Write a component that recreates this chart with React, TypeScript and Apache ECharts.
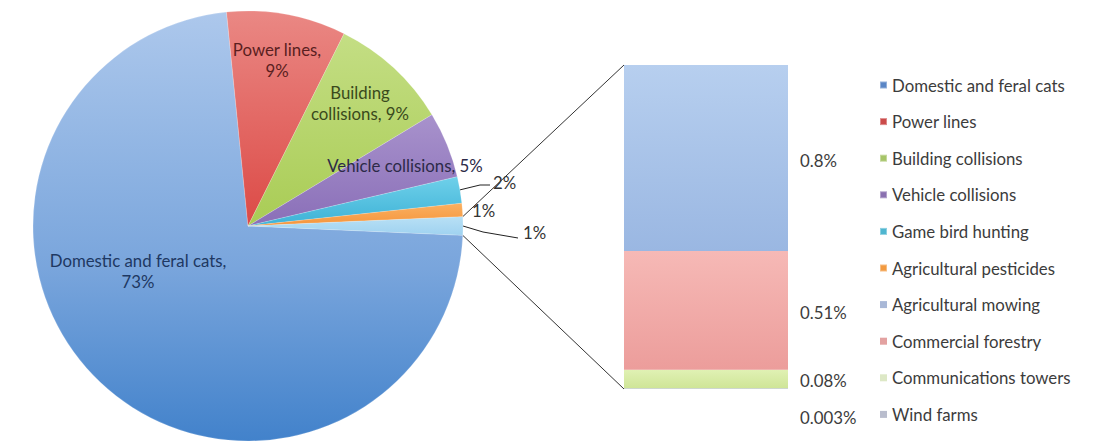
import React, { useEffect, useRef } from "react";
import * as echarts from "echarts";

// ---------- data ----------
const pieNames = [
  "Domestic and feral cats",
  "Power lines",
  "Building collisions",
  "Vehicle collisions",
  "Game bird hunting",
  "Agricultural pesticides",
];
const pieValues = [73, 9, 9, 5, 2, 1];
const barNames = [
  "Agricultural mowing",
  "Commercial forestry",
  "Communications towers",
  "Wind farms",
];
const barValues = [0.8, 0.51, 0.08, 0.003];
const barLabels = ["0.8%", "0.51%", "0.08%", "0.003%"];
const otherName = "Other";

// ---------- styling ----------
const FONT = "Lato, 'Open Sans', sans-serif";
const FS = 16.8;
const W = 1096;
const H = 443;
const CX = 248;
const CY = 226;
const R = 215;
const BAR = { left: 624, top: 65, width: 164, height: 324 };

const pieGradients: [string, string][] = [
  ["#b0cbee", "#4080ca"],
  ["#ea8884", "#dc4a46"],
  ["#c4de84", "#a9cc55"],
  ["#a892cc", "#8a6fb8"],
  ["#6fd0ea", "#3db2d6"],
  ["#fab061", "#f5953c"],
  ["#b8e0f5", "#9fd2f0"],
];
const barGradients: [string, string][] = [
  ["#b7cfef", "#9ab7e2"],
  ["#f6b9b6", "#ec9d9b"],
  ["#e0f1b4", "#cfe597"],
  ["#c0c6da", "#b0b8d0"],
];
const legendColors = [
  "#5a86c6",
  "#cb4b4a",
  "#a6c468",
  "#8a70b0",
  "#4fb6d0",
  "#f29a40",
  "#a9b8d7",
  "#e3a2a1",
  "#dde8c6",
  "#b9bdcd",
];
const pieLabelColors = ["#1e3862", "#5a1f1f", "#3a4a1c", "#2c2a48", "#333", "#333", "#333"];
// label anchor positions (label text, not marks)
const pieLabelPos: [number, number, string][] = [
  [138, 271, "center"],
  [277, 60, "center"],
  [360, 103, "center"],
  [405, 165, "center"],
  [493, 182, "left"],
  [472, 210, "left"],
  [523, 232, "left"],
];

const pieLabelText = (i: number, name: string, pct: number) => {
  if (i === 0 || i === 1) return `${name},\n${pct}%`;
  if (i === 2) return name.replace(" ", "\n") + `, ${pct}%`;
  if (i === 3) return `${name}, ${pct}%`;
  return `${pct}%`;
};

const vGrad = (c: [string, string]) =>
  new echarts.graphic.LinearGradient(0, 0, 0, 1, [
    { offset: 0, color: c[0] },
    { offset: 1, color: c[1] },
  ]);

export default function App() {
  const ref = useRef<HTMLDivElement>(null);

  useEffect(() => {
    document.body.style.margin = "0";
    if (!ref.current) return;
    const chart = echarts.init(ref.current, undefined, { renderer: "svg" });

    const otherValue = barValues.reduce((a, b) => a + b, 0);
    const allPieValues = [...pieValues, otherValue];
    const allPieNames = [...pieNames, otherName];
    const total = allPieValues.reduce((a, b) => a + b, 0);
    const halfOther = (otherValue / total) * 360 / 2;
    const startAngle = -halfOther;

    const midAngles: number[] = [];
    let cum = 0;
    allPieValues.forEach((v) => {
      midAngles.push(startAngle - ((cum + v / 2) / total) * 360);
      cum += v;
    });
    const edge = (deg: number) => {
      const r = (deg * Math.PI) / 180;
      return [CX + R * Math.cos(r), CY - R * Math.sin(r)];
    };

    const cats = new echarts.graphic.LinearGradient(
      0, CY - R, 0, CY + R,
      [
        { offset: 0, color: "#adc8ec" },
        { offset: 0.6, color: "#79a5dc" },
        { offset: 1, color: "#4282cb" },
      ],
      true
    );

    const pieData = allPieNames.map((name, i) => ({
      name,
      value: allPieValues[i],
      itemStyle: { color: i === 0 ? cats : vGrad(pieGradients[i]) },
      label: { color: pieLabelColors[i] },
      labelLine: { show: i === 4 || i === 6 },
    }));

    const stackOrder = [...barNames.keys()].reverse();
    const barSeries = stackOrder.map((i) => ({
      type: "bar",
      name: barNames[i],
      stack: "other",
      barWidth: "100%",
      data: [barValues[i]],
      itemStyle: { color: vGrad(barGradients[i]) },
      silent: true,
      label: {
        show: true,
        position: "right",
        distance: 12,
        formatter: () => barLabels[i],
        fontFamily: FONT,
        fontSize: FS,
        color: "#3c3c3c",
        offset: [0, i === 3 ? 29 : 2],
      },
    }));

    const topEdge = edge(halfOther);
    const botEdge = edge(-halfOther);

    chart.setOption({
      animation: false,
      backgroundColor: "#ffffff",
      legend: {
        orient: "vertical",
        left: 874,
        top: 71,
        itemWidth: 7,
        itemHeight: 7,
        icon: "rect",
        itemGap: 18.6,
        selectedMode: false,
        textStyle: { fontFamily: FONT, fontSize: FS, lineHeight: 18, color: "#3c3c3c" },
        data: [...pieNames, ...barNames].map((n, i) => ({
          name: n,
          itemStyle: { color: legendColors[i] },
        })),
      },
      grid: { left: BAR.left, top: BAR.top, width: BAR.width, height: BAR.height },
      xAxis: { type: "category", data: [""], show: false },
      yAxis: { type: "value", min: 0, max: otherValue, show: false },
      series: [
        {
          type: "pie",
          center: [CX, CY],
          radius: R,
          startAngle,
          clockwise: true,
          avoidLabelOverlap: false,
          silent: true,
          data: pieData,
          itemStyle: { borderColor: "rgba(255,255,255,0.35)", borderWidth: 0.5 },
          label: {
            show: true,
            position: "outside",
            fontFamily: FONT,
            fontSize: FS,
            lineHeight: 21,
            formatter: (p: any) => pieLabelText(p.dataIndex, p.name, Math.round(p.percent)),
          },
          labelLine: { show: false, lineStyle: { color: "#222", width: 1 } },
          labelLayout: (p: any) => {
            const i = p.dataIndex;
            const [x, y, align] = pieLabelPos[i];
            const out: any = { x, y, align, verticalAlign: "middle" };
            if (i === 4) {
              const e = edge(midAngles[i]);
              out.labelLinePoints = [e, [x - 13, y + 3], [x - 3, y + 3]];
            }
            if (i === 6) {
              const e = edge(midAngles[i]);
              out.labelLinePoints = [e, [x - 40, y], [x - 5, y + 6]];
            }
            return out;
          },
        },
        ...barSeries,
      ],
      graphic: [
        {
          type: "line",
          shape: { x1: topEdge[0], y1: topEdge[1], x2: BAR.left, y2: BAR.top },
          style: { stroke: "#333", lineWidth: 1 },
          silent: true,
        },
        {
          type: "line",
          shape: { x1: botEdge[0], y1: botEdge[1], x2: BAR.left, y2: BAR.top + BAR.height },
          style: { stroke: "#333", lineWidth: 1 },
          silent: true,
        },
      ],
    });

    return () => chart.dispose();
  }, []);

  return <div ref={ref} style={{ width: W, height: H }} />;
}
